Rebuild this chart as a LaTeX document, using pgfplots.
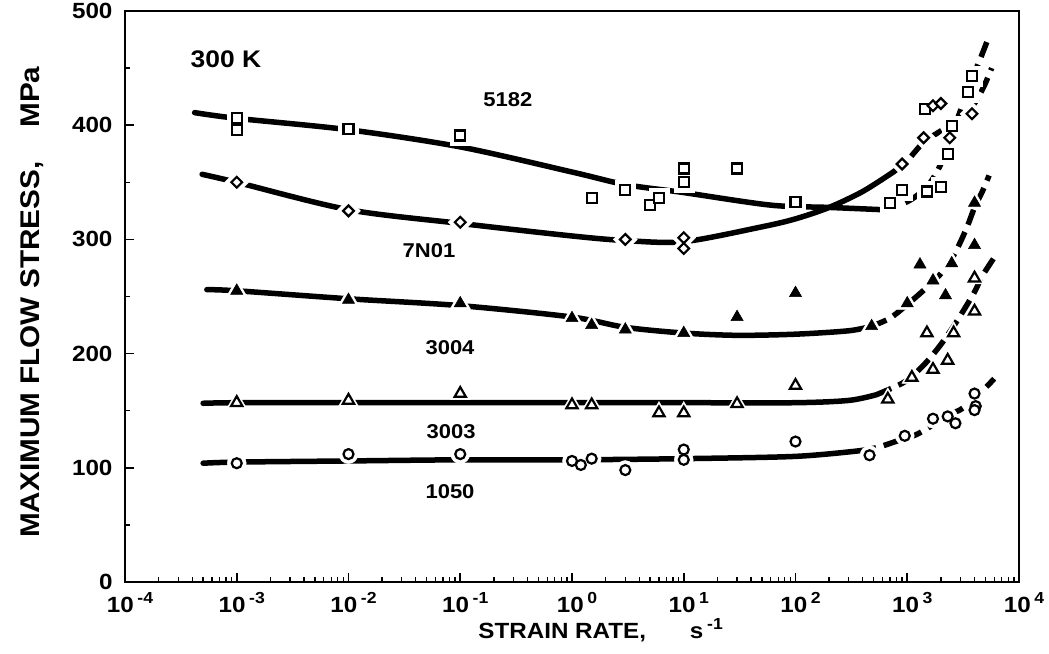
\documentclass[border=0pt]{standalone}
\usepackage{fontspec}
\setmainfont{Liberation Sans}[FakeStretch=1.1]
\usepackage{pgfplots}
\usepackage{pgfplotstable}
\pgfplotsset{compat=1.18}

% measured points
\pgfplotstableread{
x y
1e-3 406
1e-3 396
1e-2 397
1e-1 391
1.5 336
3 343
5 330
6 336
10 362
10 350
30 362
100 333
700 332
900 343
1500 342
2000 346
2300 375
2500 399
3500 429
3800 443
1450 414
}\alA
\pgfplotstableread{
x y
1e-3 350
1e-2 325
1e-1 315
3 300
10 301.5
10 292
900 366
1400 389
2400 389
3800 410
1700 417
2000 419
}\alB
\pgfplotstableread{
x y
1e-3 255
1e-2 247
1e-1 244
1 231
1.5 225
3 221
10 218
30 232
100 253
480 224
1000 244
1300 278
1700 264
2200 251
2500 279
4000 332
4000 295
}\alC
\pgfplotstableread{
x y
1e-3 157
1e-2 159
1e-1 165
1 155
1.5 155
6 148
10 148
30 156
100 172
670 160
1100 179
1500 218
1700 186
2300 194
2600 218
4000 237
4000 266
}\alD
\pgfplotstableread{
x y
1e-3 104
1e-2 112
1e-1 112
1 106
1.2 102.5
1.5 108
3 98
10 116
10 107
100 123
460 111
950 128
1700 143
2300 145
2700 139
4000 165
4100 154
4000 150.5
}\alE

\pgfplotsset{
  curve/.style={black, line width=5.5pt, smooth, line cap=round, no marks},
  dcurve/.style={curve, dash pattern=on 16pt off 8pt, line cap=butt},
}
\newcommand{\sx}[1]{\,\raisebox{0.75ex}{\fontsize{16}{16}\selectfont #1}}

\begin{document}
\begin{tikzpicture}
\useasboundingbox (-125pt,-71pt) rectangle (924pt,582pt);
\begin{axis}[
  at={(0,0)}, anchor=south west,
  scale only axis, width=894pt, height=571pt,
  xmode=log, xmin=1e-4, xmax=1e4, ymin=0, ymax=500,
  axis line style={line width=2pt},
  tick align=inside,
  xtick pos=bottom, ytick pos=left,
  xtick={1e-4,1e-3,1e-2,1e-1,1,1e1,1e2,1e3,1e4},
  xticklabels={10\sx{-4},10\sx{-3},10\sx{-2},10\sx{-1},10\sx{0},10\sx{1},10\sx{2},10\sx{3},10\sx{4}},
  minor xtick={2e-4,3e-4,4e-4,5e-4,6e-4,7e-4,8e-4,9e-4,
    2e-3,3e-3,4e-3,5e-3,6e-3,7e-3,8e-3,9e-3,
    2e-2,3e-2,4e-2,5e-2,6e-2,7e-2,8e-2,9e-2,
    0.2,0.3,0.4,0.5,0.6,0.7,0.8,0.9,
    2,3,4,5,6,7,8,9,
    20,30,40,50,60,70,80,90,
    200,300,400,500,600,700,800,900,
    2000,3000,4000,5000,6000,7000,8000,9000},
  ytick={0,100,200,300,400,500},
  yticklabels={0,100,200,300,400,500},
  minor ytick={50,150,250,350,450},
  major tick length=9pt, minor tick length=5pt,
  major tick style={line width=1.6pt, black},
  minor tick style={line width=1.3pt, black},
  ticklabel style={font=\fontsize{22}{22}\selectfont\bfseries},
  xticklabel style={yshift=-7pt, xshift=5pt},
  yticklabel style={xshift=-9pt},
  xlabel={STRAIN RATE,\hspace{44pt}s\sx{-1}},
  ylabel={MAXIMUM FLOW STRESS,\hspace{34pt}MPa},
  every axis x label/.style={at={(axis description cs:0.532,-0.084)}, anchor=center,
    font=\fontsize{22}{22}\selectfont\bfseries},
  every axis y label/.style={at={(axis description cs:-0.104,0.49)}, rotate=90, anchor=center,
    font=\fontsize{27}{27}\selectfont\bfseries},
]
% 5182
\addplot[curve] coordinates {(4.2e-4,411) (1e-3,406) (1e-2,396) (1e-1,381) (1,359) (3,348) (10,341) (60,330) (200,328) (600,326)};
\addplot[dcurve] coordinates {(600,326) (1000,333) (1500,346) (2000,366) (2500,392) (3000,413) (3700,438) (4500,458) (5300,476)};
% 7N01
\addplot[curve] coordinates {(4.9e-4,357) (1e-3,350) (1e-2,326) (1e-1,314) (1,303) (3,299) (10,298) (50,311) (100,318) (200,328) (400,342) (750,359)};
\addplot[dcurve] coordinates {(750,359) (1000,369) (1400,385) (2000,395) (2800,404) (3800,416) (4800,433) (5700,450)};
% 3004
\addplot[curve] coordinates {(5.4e-4,256) (1e-3,255) (1e-2,248) (1e-1,242) (1,232) (3,223) (10,218) (30,216) (100,217) (300,220) (480,224)};
\addplot[dcurve] coordinates {(480,224) (700,231) (1000,243) (1500,258) (2000,270) (2500,283) (3000,298) (3500,313) (4000,328) (4700,342) (5400,356)};
% 3003
\addplot[curve] coordinates {(5e-4,156.5) (1e-3,157) (1e-2,157) (1e-1,157) (1,157) (10,157) (100,157) (300,159) (530,164)};
\addplot[dcurve] coordinates {(530,164) (700,169) (900,174) (1100,180) (1500,193) (2000,208) (2600,224) (3200,238) (4000,254) (4700,268) (5900,283)};
% 1050
\addplot[curve] coordinates {(5e-4,104) (1e-3,105) (1e-2,106) (1e-1,107) (1,107) (10,108) (100,110) (380,115)};
\addplot[dcurve] coordinates {(380,115) (550,118) (900,125) (1200,129) (1600,136) (2300,146) (3000,151) (4000,160) (4800,168) (6000,178)};

% white gaps round the symbols
\addplot[only marks, mark=square*, mark size=10pt, mark options={solid, draw=white, fill=white}] table {\alA};
\addplot[only marks, mark=square*, mark size=8.5pt, mark options={solid, rotate=45, draw=white, fill=white}] table {\alB};
\addplot[only marks, mark=triangle*, mark size=12pt, mark options={solid, draw=white, fill=white}] table {\alC};
\addplot[only marks, mark=triangle*, mark size=11.5pt, mark options={solid, draw=white, fill=white}] table {\alD};
\addplot[only marks, mark=*, mark size=9.5pt, mark options={solid, draw=white, fill=white}] table {\alE};

% symbols
\addplot[only marks, mark=square*, mark size=5pt, mark options={solid, draw=black, fill=white, line width=2.2pt}] table {\alA};
\addplot[only marks, mark=square*, mark size=3.8pt, mark options={solid, rotate=45, draw=black, fill=white, line width=2.2pt}] table {\alB};
\addplot[only marks, mark=triangle*, mark size=7pt, mark options={solid, draw=black, fill=black, line width=0.5pt}] table {\alC};
\addplot[only marks, mark=triangle*, mark size=6.5pt, mark options={solid, draw=black, fill=white, line width=2.2pt}] table {\alD};
\addplot[only marks, mark=*, mark size=5pt, mark options={solid, draw=black, fill=white, line width=2.2pt}] table {\alE};

\node[font=\fontsize{24}{24}\selectfont\bfseries] at (axis cs:8e-4,458) {300 K};
\node[font=\fontsize{20}{20}\selectfont\bfseries] at (axis cs:0.267,422) {5182};
\node[font=\fontsize{20}{20}\selectfont\bfseries] at (axis cs:0.0525,290) {7N01};
\node[font=\fontsize{20}{20}\selectfont\bfseries] at (axis cs:0.081,205) {3004};
\node[font=\fontsize{20}{20}\selectfont\bfseries] at (axis cs:0.083,132) {3003};
\node[font=\fontsize{20}{20}\selectfont\bfseries] at (axis cs:0.081,79) {1050};
\end{axis}
\end{tikzpicture}
\end{document}
